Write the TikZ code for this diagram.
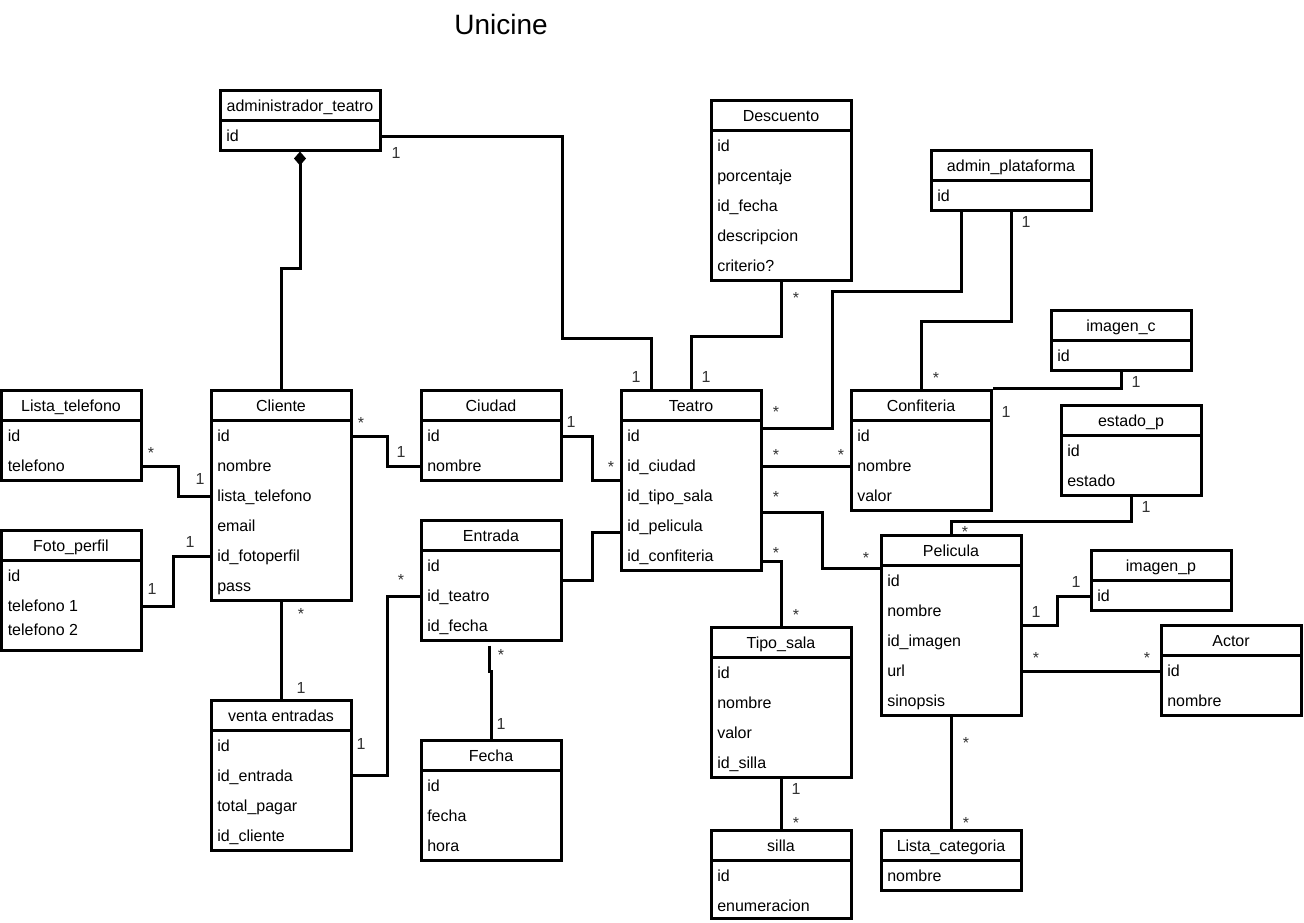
\documentclass[tikz,border=0pt]{standalone}
\usepackage{fontspec}
\setmainfont{Liberation Sans}
\usetikzlibrary{arrows.meta,calc,fit}

\begin{document}
\begin{tikzpicture}[x=0.75pt, y=-0.75pt,
	classbox/.style={draw, line width=2.25pt, inner sep=0pt},
	cname/.style={font=\fontsize{12}{14}\selectfont, inner sep=0pt, text height=8.6pt, text depth=0pt},
	attr/.style={cname, anchor=west},
	mult/.style={cname, text=black!80},
	link/.style={line width=2.25pt},
	comp/.style={link, {Diamond[length=10.5pt, width=9pt]}-}]

	\fill
		[white] (0,0) rectangle (1304,922);
	\useasboundingbox (0,0) rectangle (1304,922);

	\node [font=\fontsize{21}{25}\selectfont, inner sep=0pt, text height=15pt, text depth=0pt]
		(title) at (501,24) {Unicine};

	% administrador_teatro
	\node [classbox, fit={(220,90) (380,150)}] (admin) {};
	\node [cname] (admin-h) at (300,106) {administrador\_teatro};
	\draw [link] (220,120) -- (380,120);
	\node [attr] (admin-1) at (226,136) {id};

	% Descuento
	\node [classbox, fit={(711,100) (851,280)}] (descuento) {};
	\node [cname] (descuento-h) at (781,116) {Descuento};
	\draw [link] (711,130) -- (851,130);
	\foreach \t [count=\i] in {id, porcentaje, id\_fecha, descripcion, criterio?}
		\node [attr] (descuento-\i) at (717, {116+30*\i}) {\t};

	% admin_plataforma
	\node [classbox, fit={(931,150) (1091,210)}] (adminp) {};
	\node [cname] (adminp-h) at (1011,166) {admin\_plataforma};
	\draw [link] (931,180) -- (1091,180);
	\node [attr] (adminp-1) at (937,196) {id};

	% imagen_c
	\node [classbox, fit={(1051,310) (1191,370)}] (imagenc) {};
	\node [cname] (imagenc-h) at (1121,326) {imagen\_c};
	\draw [link] (1051,340) -- (1191,340);
	\node [attr] (imagenc-1) at (1057,356) {id};

	% Lista_telefono
	\node [classbox, fit={(1.5,390) (141,480)}] (listatel) {};
	\node [cname] (listatel-h) at (71,406) {Lista\_telefono};
	\draw [link] (1.5,420) -- (141,420);
	\foreach \t [count=\i] in {id, telefono}
		\node [attr] (listatel-\i) at (7.5, {406+30*\i}) {\t};

	% Cliente
	\node [classbox, fit={(211,390) (351,600)}] (cliente) {};
	\node [cname] (cliente-h) at (281,406) {Cliente};
	\draw [link] (211,420) -- (351,420);
	\foreach \t [count=\i] in {id, nombre, lista\_telefono, email, id\_fotoperfil, pass}
		\node [attr] (cliente-\i) at (217, {406+30*\i}) {\t};

	% Ciudad
	\node [classbox, fit={(421,390) (561,480)}] (ciudad) {};
	\node [cname] (ciudad-h) at (491,406) {Ciudad};
	\draw [link] (421,420) -- (561,420);
	\foreach \t [count=\i] in {id, nombre}
		\node [attr] (ciudad-\i) at (427, {406+30*\i}) {\t};

	% Teatro
	\node [classbox, fit={(621,390) (761,570)}] (teatro) {};
	\node [cname] (teatro-h) at (691,406) {Teatro};
	\draw [link] (621,420) -- (761,420);
	\foreach \t [count=\i] in {id, id\_ciudad, id\_tipo\_sala, id\_pelicula, id\_confiteria}
		\node [attr] (teatro-\i) at (627, {406+30*\i}) {\t};

	% Confiteria
	\node [classbox, fit={(851,390) (991,510)}] (confiteria) {};
	\node [cname] (confiteria-h) at (921,406) {Confiteria};
	\draw [link] (851,420) -- (991,420);
	\foreach \t [count=\i] in {id, nombre, valor}
		\node [attr] (confiteria-\i) at (857, {406+30*\i}) {\t};

	% estado_p
	\node [classbox, fit={(1061,405) (1201,495)}] (estadop) {};
	\node [cname] (estadop-h) at (1131,421) {estado\_p};
	\draw [link] (1061,435) -- (1201,435);
	\foreach \t [count=\i] in {id, estado}
		\node [attr] (estadop-\i) at (1067, {421+30*\i}) {\t};

	% Foto_perfil
	\node [classbox, fit={(1.5,530) (141,650)}] (fotoperfil) {};
	\node [cname] (fotoperfil-h) at (71,546) {Foto\_perfil};
	\draw [link] (1.5,560) -- (141,560);
	\foreach \t/\y [count=\i] in {id/576, telefono 1/606, telefono 2/630}
		\node [attr] (fotoperfil-\i) at (7.5,\y) {\t};

	% Entrada
	\node [classbox, fit={(421,520) (561,640)}] (entrada) {};
	\node [cname] (entrada-h) at (491,536) {Entrada};
	\draw [link] (421,550) -- (561,550);
	\foreach \t [count=\i] in {id, id\_teatro, id\_fecha}
		\node [attr] (entrada-\i) at (427, {536+30*\i}) {\t};

	% Pelicula
	\node [classbox, fit={(881,535) (1021,715)}] (pelicula) {};
	\node [cname] (pelicula-h) at (951,551) {Pelicula};
	\draw [link] (881,565) -- (1021,565);
	\foreach \t [count=\i] in {id, nombre, id\_imagen, url, sinopsis}
		\node [attr] (pelicula-\i) at (887, {551+30*\i}) {\t};

	% imagen_p
	\node [classbox, fit={(1091,550) (1231,610)}] (imagenp) {};
	\node [cname] (imagenp-h) at (1161,566) {imagen\_p};
	\draw [link] (1091,580) -- (1231,580);
	\node [attr] (imagenp-1) at (1097,596) {id};

	% Actor
	\node [classbox, fit={(1161,625) (1301.5,715)}] (actor) {};
	\node [cname] (actor-h) at (1231,641) {Actor};
	\draw [link] (1161,655) -- (1301.5,655);
	\foreach \t [count=\i] in {id, nombre}
		\node [attr] (actor-\i) at (1167, {641+30*\i}) {\t};

	% Tipo_sala
	\node [classbox, fit={(711,627) (851,777)}] (tiposala) {};
	\node [cname] (tiposala-h) at (781,643) {Tipo\_sala};
	\draw [link] (711,657) -- (851,657);
	\foreach \t [count=\i] in {id, nombre, valor, id\_silla}
		\node [attr] (tiposala-\i) at (717, {643+30*\i}) {\t};

	% venta entradas
	\node [classbox, fit={(211,700) (351,850)}] (venta) {};
	\node [cname] (venta-h) at (281,716) {venta entradas};
	\draw [link] (211,730) -- (351,730);
	\foreach \t [count=\i] in {id, id\_entrada, total\_pagar, id\_cliente}
		\node [attr] (venta-\i) at (217, {716+30*\i}) {\t};

	% Fecha
	\node [classbox, fit={(421,740) (561,860)}] (fecha) {};
	\node [cname] (fecha-h) at (491,756) {Fecha};
	\draw [link] (421,770) -- (561,770);
	\foreach \t [count=\i] in {id, fecha, hora}
		\node [attr] (fecha-\i) at (427, {756+30*\i}) {\t};

	% Lista_categoria
	\node [classbox, fit={(881,830) (1021,890)}] (listacat) {};
	\node [cname] (listacat-h) at (951,846) {Lista\_categoria};
	\draw [link] (881,860) -- (1021,860);
	\node [attr] (listacat-1) at (887,876) {nombre};

	% silla
	\node [classbox, fit={(711,830) (851,918.5)}] (silla) {};
	\node [cname] (silla-h) at (781,846) {silla};
	\draw [link] (711,860) -- (851,860);
	\foreach \t [count=\i] in {id, enumeracion}
		\node [attr] (silla-\i) at (717, {846+30*\i}) {\t};

	% connectors
	\draw
		[comp] (admin.south) |- ($(cliente.north)+(0,-120)$) -- (cliente.north);
	\draw
		[link] (admin.east |- admin-1) -- ++(181,0) |- ($(teatro.north)+(-40,-50)$) -- ($(teatro.north)+(-40,0)$);
	\draw
		[link] (descuento.south) -- ++(0,55) -| (teatro.north);
	\draw
		[link] ($(adminp.south)+(-50,0)$) -- ++(0,80) -| ($(teatro.north east)+(70,40)$) -- ($(teatro.north east)+(0,40)$);
	\draw
		[link] (adminp.south) -- ++(0,110) -| (confiteria.north);
	\draw
		[link] (imagenc.south) |- (confiteria.north east);
	\draw
		[link] (cliente.east |- cliente-1) -- ++(35,0) |- (ciudad.west |- ciudad-2);
	\draw
		[link] (ciudad.east |- ciudad-1) -- ++(30,0) |- (teatro.west);
	\draw
		[link] (entrada.east) -- ++(30,0) |- ($(teatro.west)+(0,52)$);
	\draw
		[link] (venta.east) -- ++(35,0) |- (entrada.west |- entrada-2);
	\draw
		[link] ($(entrada.south)+(-2,4)$) |- ($(fecha.north)+(0,-67)$) -- (fecha.north);
	\draw
		[link] (cliente.south) -- (venta.north);
	\draw
		[link] (listatel.east |- listatel-2) -- ++(36,0) |- (cliente.west |- cliente-3);
	\draw
		[link] (fotoperfil.east |- fotoperfil-2) -- ++(31,0) |- (cliente.west |- cliente-5);
	\draw
		[link] (teatro.east |- confiteria-2) -- (confiteria.west |- confiteria-2);
	\draw
		[link] ($(teatro.east)+(0,32)$) -- ++(60,0) |- ($(pelicula.north west)+(0,35)$);
	\draw
		[link] ($(teatro.south east)+(0,-10)$) -| (tiposala.north);
	\draw
		[link] (estadop.south) -- ++(0,25) -| (pelicula.north);
	\draw
		[link] (pelicula.east) -- ++(35,0) |- (imagenp.west |- imagenp-1);
	\draw
		[link] (pelicula.east |- actor-1) -- (actor.west |- actor-1);
	\draw
		[link] (pelicula.south) -- (listacat.north);
	\draw
		[link] (tiposala.south) -- (silla.north);

	% multiplicities
	\foreach \x/\y [count=\i] in {396/153, 636/377, 706/377, 1026/222, 1136/382, 1006/412,
			1146/507, 1076/582, 1036/612, 200/479, 401/452, 190/542, 152/589, 301/688,
			361/744, 571/422, 501/724, 796/789}
		\node [mult] (one-\i) at (\x,\y) {1};

	\foreach \x/\y [count=\i] in {796/294, 776/408, 776/451, 841/451, 776/493, 776/549,
			611/463, 866/554, 936/374, 965/528, 1036/654, 1147/654, 966/739, 966/819,
			151/449, 361/419, 401/576, 301/610, 501/651, 796/611, 796/819}
		\node [mult] (star-\i) at (\x,{\y+3.5}) {*};
\end{tikzpicture}
\end{document}
